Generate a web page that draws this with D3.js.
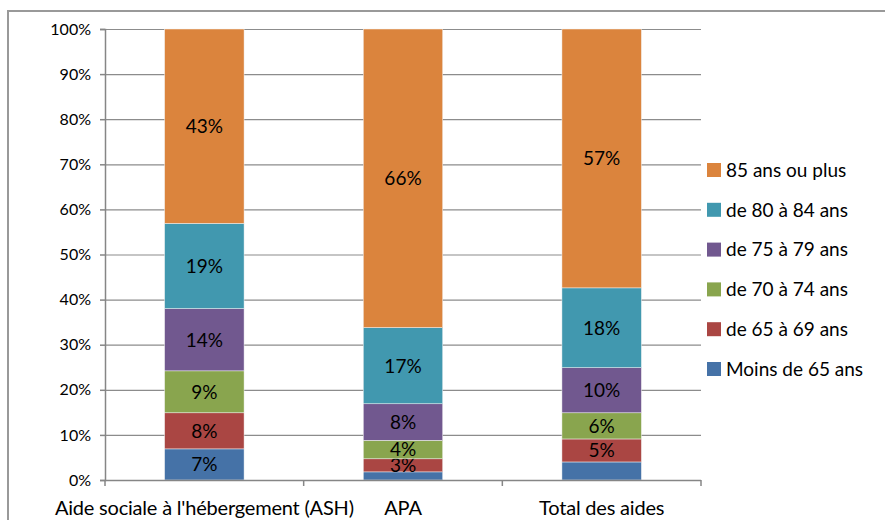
<!DOCTYPE html>
<html>
<head>
<meta charset="utf-8">
<script src="https://cdn.jsdelivr.net/npm/d3@7"></script>
<style>
  body { margin: 0; background: #fff; }
  svg text { font-family: Lato, "Open Sans", sans-serif; fill: #000; }
</style>
</head>
<body>
<div id="chart"></div>
<script>
var categories = ["Aide sociale à l'hébergement (ASH)", "APA", "Total des aides"];
var seriesNames = ["Moins de 65 ans", "de 65 à 69 ans", "de 70 à 74 ans", "de 75 à 79 ans", "de 80 à 84 ans", "85 ans ou plus"];
var seriesColors = ["#4572A7", "#AA4643", "#89A54E", "#71588F", "#4198AF", "#DB843D"];

// values in %, one list per age band, in category order
var moins65 = [6.9, 1.8, 4.0];
var de65a69 = [8.0, 2.9, 5.1];
var de70a74 = [9.3, 4.1, 5.8];
var de75a79 = [13.8, 8.1, 10.0];
var de80a84 = [18.9, 16.9, 17.7];
var plus85 = [43.1, 66.2, 57.4];

// which bar segments carry a label
var showLabel = [
  [true, false, false],
  [true, true, true],
  [true, true, true],
  [true, true, true],
  [true, true, true],
  [true, true, true]
];

var yTicks = [0, 10, 20, 30, 40, 50, 60, 70, 80, 90, 100];

var width = 885, height = 520;
var margin = {left: 105, right: 184, top: 29, bottom: 40};
var plotW = width - margin.left - margin.right;
var plotH = height - margin.top - margin.bottom;

var values = [moins65, de65a69, de70a74, de75a79, de80a84, plus85];
var rows = categories.map(function(c, i) {
  var row = {category: c};
  seriesNames.forEach(function(s, j) { row[s] = values[j][i]; });
  return row;
});

var stacked = d3.stack().keys(seriesNames)(rows);

var svg = d3.select("#chart").append("svg")
  .attr("width", width)
  .attr("height", height);

// outer chart border
svg.append("rect")
  .attr("x", 8).attr("y", 11)
  .attr("width", 890).attr("height", 530)
  .attr("fill", "none")
  .attr("stroke", "#999")
  .attr("stroke-width", 2);

var x = d3.scaleBand()
  .domain(categories)
  .range([0, plotW])
  .paddingInner(0.6)
  .paddingOuter(0.3);

var y = d3.scaleLinear()
  .domain([0, 100])
  .range([plotH, 0]);

var g = svg.append("g")
  .attr("transform", "translate(" + margin.left + "," + margin.top + ")");

// gridlines
g.selectAll("line.grid")
  .data(yTicks.slice(1))
  .enter().append("line")
  .attr("class", "grid")
  .attr("x1", 0).attr("x2", plotW)
  .attr("y1", function(d) { return y(d) + .5; })
  .attr("y2", function(d) { return y(d) + .5; })
  .attr("stroke", "#8c8c8c")
  .attr("stroke-width", 1.2);

// y axis
var yAxis = g.append("g")
  .call(d3.axisLeft(y).tickValues(yTicks).tickSize(5).tickPadding(9)
    .tickFormat(function(d) { return d + "%"; }));
yAxis.select(".domain").attr("stroke", "#868686").attr("stroke-width", 1.5);
yAxis.selectAll(".tick line").attr("stroke", "#868686").attr("stroke-width", 1.5);
yAxis.selectAll("text").style("font-size", "16px").attr("fill", "#000");

// bars
var layers = g.selectAll("g.layer")
  .data(stacked)
  .enter().append("g")
  .attr("class", "layer")
  .attr("fill", function(d, i) { return seriesColors[i]; });

layers.selectAll("rect")
  .data(function(d) { return d; })
  .enter().append("rect")
  .attr("x", function(d) { return x(d.data.category); })
  .attr("y", function(d) { return y(d[1]); })
  .attr("width", x.bandwidth())
  .attr("height", function(d) { return y(d[0]) - y(d[1]); })
  .attr("stroke", "#f4f4f4")
  .attr("stroke-width", 0.5);

// bar labels
layers.each(function(layer, si) {
  d3.select(this).selectAll("text")
    .data(layer.filter(function(d, ci) { return showLabel[si][ci]; }))
    .enter().append("text")
    .attr("x", function(d) { return x(d.data.category) + x.bandwidth() / 2; })
    .attr("y", function(d) { return (y(d[0]) + y(d[1])) / 2; })
    .attr("dy", "0.36em")
    .attr("text-anchor", "middle")
    .style("font-size", "19px")
    .text(function(d) { return Math.round(d[1] - d[0]) + "%"; });
});

// x axis
var xAxisG = g.append("g")
  .attr("transform", "translate(0," + plotH + ")");
xAxisG.append("line")
  .attr("x1", 0).attr("x2", plotW)
  .attr("y1", 0.5).attr("y2", 0.5)
  .attr("stroke", "#868686")
  .attr("stroke-width", 1.5);
xAxisG.selectAll("line.tick")
  .data(d3.range(categories.length + 1))
  .enter().append("line")
  .attr("class", "tick")
  .attr("x1", function(i) { return i * x.step(); })
  .attr("x2", function(i) { return i * x.step(); })
  .attr("y1", 0).attr("y2", 6)
  .attr("stroke", "#868686")
  .attr("stroke-width", 1.5);
xAxisG.selectAll("text")
  .data(categories)
  .enter().append("text")
  .attr("x", function(d) { return x(d) + x.bandwidth() / 2; })
  .attr("y", 35)
  .attr("text-anchor", "middle")
  .style("font-size", "20px")
  .style("letter-spacing", "-0.2px")
  .text(function(d) { return d; });

// legend (top item = last series)
var legend = svg.append("g")
  .attr("transform", "translate(707,163)");
var items = legend.selectAll("g")
  .data(seriesNames.slice().reverse())
  .enter().append("g")
  .attr("transform", function(d, i) { return "translate(0," + i * 39.8 + ")"; });
items.append("rect")
  .attr("width", 14).attr("height", 14)
  .attr("fill", function(d) { return seriesColors[seriesNames.indexOf(d)]; });
items.append("text")
  .attr("x", 19).attr("y", 7)
  .attr("dy", "0.36em")
  .style("font-size", "19px")
  .text(function(d) { return d; });
</script>
</body>
</html>
